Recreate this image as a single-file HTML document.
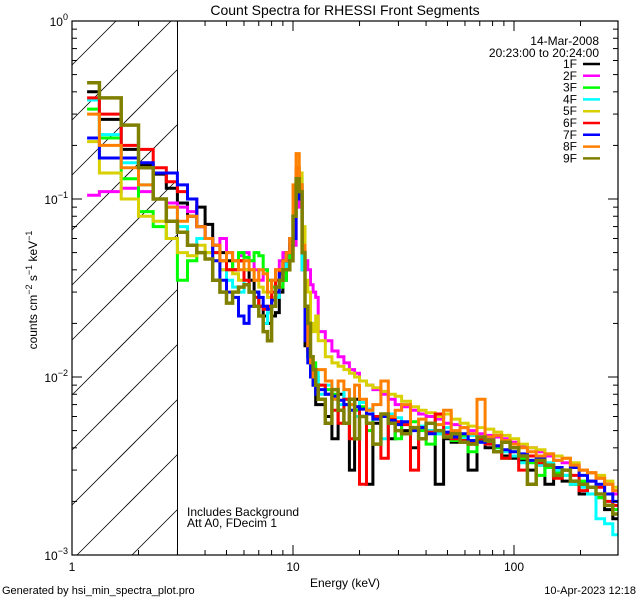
<!DOCTYPE html>
<html><head><meta charset="utf-8"><style>
html,body{margin:0;padding:0;background:#fff;width:640px;height:600px;overflow:hidden;}
svg{display:block;font-family:"Liberation Sans",sans-serif;}
</style></head><body>
<svg id="chart" width="640" height="600">
<defs><clipPath id="plotclip"><rect x="72" y="21" width="546" height="534"/></clipPath></defs>
<rect width="640" height="600" fill="#fff"/>
<g id="hatch"></g>
<line x1="177.5" y1="21" x2="177.5" y2="555" stroke="#000" stroke-width="1"/>
<g id="series" clip-path="url(#plotclip)"></g>
<g id="axes"></g>
<text x="345" y="15" text-anchor="middle" font-size="14">Count Spectra for RHESSI Front Segments</text>
<text x="345" y="587" text-anchor="middle" font-size="12">Energy (keV)</text>
<text transform="translate(37,290) rotate(-90)" text-anchor="middle" font-size="12">counts cm<tspan dy="-5" font-size="9">−2</tspan><tspan dy="5"> s</tspan><tspan dy="-5" font-size="9">−1</tspan><tspan dy="5"> keV</tspan><tspan dy="-5" font-size="9">−1</tspan></text>
<text x="599" y="45" text-anchor="end" font-size="12">14-Mar-2008</text>
<text x="599" y="57" text-anchor="end" font-size="12">20:23:00 to 20:24:00</text>
<g id="legend"></g>
<text x="187" y="516" font-size="12">Includes Background</text>
<text x="187" y="527" font-size="12">Att A0, FDecim 1</text>
<text x="2" y="594" font-size="11">Generated by hsi_min_spectra_plot.pro</text>
<text x="636" y="594" text-anchor="end" font-size="11">10-Apr-2023 12:18</text>
</svg>
<script>
const edges=[1.17,1.33,1.67,2,2.33,2.67,3,3.33,3.67,4,4.33,4.67,5,5.33,5.67,6,6.33,6.67,7,7.33,7.67,8,8.33,8.67,9,9.33,9.67,10,10.33,10.67,11,11.33,11.67,12,12.33,12.67,13,
14,15,16,17,18,19,20,21.5,23,25,27,29,31,34,37,40,44,48,52,57,62,68,74,81,88,96,105,115,126,138,151,165,180,197,215,235,257,280,300];
const seriesNames=["1F","2F","3F","4F","5F","6F","7F","8F","9F"];
const seriesColors=["#000000","#ff00ff","#00ff00","#00ffff","#d8d000","#ff0000","#0000ff","#ff8000","#808000"];
const s1F=[.40,.28,.19,.155,.138,.115,.095,.08,.09,.072,.055,.05,.045,
.04,.045,.04,.035,.030,.025,.022,.020,.022,.023,.03,.035,.045,.06,
.09,.14,.11,.04,.015,.013,.010,.009,.007,
.007,.006,.0045,.008,.007,.003,.0075,.006,.0025,.0055,.006,.0045,.0055,.005,.004,.0045,.005,.0025,.0045,.0043,.0045,.003,.0044,.004,.0038,.0036,.0035,.0034,.003,.0032,.0025,.0028,.0026,.0025,.0022,.0024,.0021,.0018,.0016];
const s2F=[.105,.11,.115,.11,.10,.095,.09,.085,.07,.06,.055,.06,.05,
.045,.048,.05,.045,.04,.035,.04,.035,.035,.04,.045,.05,.05,.048,
.055,.10,.09,.06,.045,.040,.033,.030,.028,
.018,.016,.014,.013,.012,.011,.0105,.0095,.009,.0085,.008,.0075,.007,.0068,.0065,.0062,.006,.0058,.0055,.0054,.0052,.005,.0048,.0047,.0046,.0045,.0043,.0041,.004,.0038,.0036,.0034,.0033,.0032,.003,.0029,.0027,.0025,.0022];
const s3F=[.32,.22,.13,.085,.07,.06,.035,.045,.05,.05,.05,.045,.04,
.045,.05,.047,.045,.05,.048,.04,.035,.032,.03,.032,.035,.04,.05,
.11,.15,.12,.05,.02,.016,.013,.012,.010,
.009,.0085,.008,.0065,.0075,.007,.0065,.0068,.005,.006,.0062,.0058,.0045,.0055,.0056,.005,.0042,.0048,.0046,.0044,.0047,.0038,.0045,.0043,.004,.0035,.0038,.0035,.0033,.0028,.0031,.0029,.0028,.0025,.0026,.0024,.0021,.0019,.0018];
const s4F=[.36,.23,.16,.12,.10,.09,.07,.055,.06,.06,.05,.04,.035,
.032,.03,.035,.03,.025,.022,.020,.023,.025,.028,.035,.04,.05,.06,
.10,.13,.13,.04,.018,.015,.012,.010,.011,
.008,.009,.0075,.007,.0085,.0065,.006,.0072,.0066,.0058,.0045,.0062,.0059,.0055,.0052,.0053,.005,.0048,.0052,.0046,.0045,.0047,.0043,.0042,.0041,.0038,.0036,.0033,.0034,.0032,.0033,.003,.0028,.0025,.0024,.0022,.0016,.0015,.0013];
const s5F=[.21,.14,.10,.08,.075,.06,.05,.048,.055,.05,.045,.04,.04,
.038,.035,.04,.04,.035,.032,.03,.028,.028,.03,.04,.045,.05,.055,
.11,.14,.14,.07,.035,.030,.020,.018,.022,
.016,.013,.012,.0115,.011,.0105,.01,.0095,.009,.0087,.0083,.008,.0078,.0073,.0068,.0065,.0063,.006,.0062,.0058,.0055,.0053,.0052,.0051,.0049,.0047,.0045,.0042,.004,.0039,.0037,.0036,.0035,.0033,.003,.0029,.0028,.0026,.0024];
const s6F=[.37,.30,.20,.19,.15,.125,.11,.10,.07,.06,.05,.045,.04,
.04,.045,.035,.03,.028,.025,.024,.025,.03,.035,.04,.045,.05,.06,
.09,.15,.12,.05,.018,.014,.011,.010,.009,
.009,.008,.0065,.0055,.0075,.0045,.0068,.0025,.0062,.006,.0035,.0058,.0056,.0054,.003,.0052,.0049,.0062,.0048,.0045,.0044,.0043,.0045,.0042,.0041,.0035,.004,.003,.0036,.0033,.0032,.0027,.003,.0028,.0023,.0026,.0024,.002,.0019];
const s7F=[.22,.17,.17,.16,.14,.14,.12,.10,.07,.06,.045,.035,.03,
.028,.022,.02,.025,.03,.028,.025,.024,.027,.03,.038,.045,.05,.055,
.06,.11,.10,.05,.016,.012,.010,.009,.008,
.0085,.008,.0078,.0074,.007,.0065,.0068,.0066,.0062,.0058,.006,.0057,.0054,.0056,.005,.0052,.0048,.005,.0049,.0046,.0048,.0044,.0043,.0045,.0041,.0039,.0038,.0037,.0034,.0035,.0032,.0031,.003,.0031,.0028,.0026,.0025,.0022,.002];
const s8F=[.30,.20,.15,.12,.10,.09,.075,.08,.07,.06,.055,.045,.05,
.045,.04,.045,.04,.035,.04,.038,.03,.035,.04,.04,.045,.05,.06,
.12,.18,.12,.055,.025,.015,.012,.010,.011,
.011,.0095,.0075,.0095,.0085,.007,.009,.0075,.0065,.007,.0095,.006,.0065,.007,.0052,.0058,.0055,.0054,.0065,.005,.0052,.0048,.0075,.0046,.0047,.0044,.0042,.004,.0038,.0036,.0037,.0034,.0035,.0032,.003,.0029,.0027,.0025,.0023];
const s9F=[.45,.37,.26,.15,.10,.075,.065,.055,.05,.046,.035,.03,.026,
.03,.032,.033,.03,.025,.022,.018,.016,.025,.032,.035,.04,.04,.045,
.08,.13,.11,.05,.025,.02,.013,.011,.009,
.0075,.0055,.0085,.0065,.0055,.0075,.0045,.006,.0055,.0042,.0062,.0055,.005,.0048,.0052,.0045,.0055,.005,.0046,.0048,.0043,.0042,.0046,.0044,.0038,.0043,.004,.0036,.0025,.0034,.0032,.0028,.003,.0026,.0025,.0024,.0022,.0019,.0017];
const seriesValues=[s1F,s2F,s3F,s4F,s5F,s6F,s7F,s8F,s9F];
const xTickLabels=["1","10","100"];
const yTickExps=["0","−1","−2","−3"];

const NS="http://www.w3.org/2000/svg";
const X0=72,X1=618,Y0=21,Y1=555,DX=221,DY=178,XH=177.5;
function xs(e){return Math.min(X1,X0+Math.log10(e)*DX);}
function ys(v){return Y0-Math.log10(v)*DY;}
function mk(tag,attrs,parent){const el=document.createElementNS(NS,tag);for(const k in attrs)el.setAttribute(k,attrs[k]);parent.appendChild(el);return el;}

const hatch=document.getElementById('hatch');
for(let c=-600;c<200;c+=55){
  const xa=Math.max(X0,X0+c), xb=Math.min(XH,X0+c+(Y1-Y0));
  if(xb<=xa)continue;
  const ya=Y1+c-(xa-X0), yb=Y1+c-(xb-X0);
  const ln=mk('line',{x1:xa,y1:ya,x2:xb,y2:yb,stroke:'#000','stroke-width':0.8},hatch);
  
  
}
const sg=document.getElementById('series');
seriesValues.forEach((vals,i)=>{
  let d='M'+xs(edges[0]).toFixed(1)+','+ys(vals[0]).toFixed(1);
  for(let b=0;b<vals.length;b++){
    if(b>0)d+='V'+ys(vals[b]).toFixed(1);
    d+='H'+xs(edges[b+1]).toFixed(1);
  }
  const p=mk('path',{d:d,fill:'none',stroke:seriesColors[i],'stroke-width':i===8?3.5:3,'stroke-linejoin':'miter'},sg);
  
  
});
const ax=document.getElementById('axes');
const frame=mk('rect',{x:X0,y:Y0,width:X1-X0,height:Y1-Y0,fill:'none',stroke:'#000','stroke-width':1.2},ax);


for(let dec=0;dec<3;dec++){
  for(let m=1;m<10;m++){
    const e=m*Math.pow(10,dec);const x=X0+Math.log10(e)*DX;if(x>X1)continue;
    const L=m===1?10:5;
    const t1=mk('line',{x1:x,y1:Y1,x2:x,y2:Y1-L,stroke:'#000'},ax);
    
    
    const t2=mk('line',{x1:x,y1:Y0,x2:x,y2:Y0+L,stroke:'#000'},ax);
    
    
  }
}
xTickLabels.forEach((lab,i)=>{
  const t=mk('text',{x:X0+i*DX,y:571,'text-anchor':'middle','font-size':12},ax);
  t.textContent=lab;
  
  
});
for(let dec=-3;dec<0;dec++){
  for(let m=1;m<10;m++){
    const y=ys(m*Math.pow(10,dec));
    const L=m===1?10:5;
    const t1=mk('line',{x1:X0,y1:y,x2:X0+L,y2:y,stroke:'#000'},ax);
    
    
    const t2=mk('line',{x1:X1,y1:y,x2:X1-L,y2:y,stroke:'#000'},ax);
    
    
  }
}
yTickExps.forEach((ex,i)=>{
  const t=mk('text',{x:X0-4,y:ys(Math.pow(10,-i))+5,'text-anchor':'end','font-size':12},ax);
  t.innerHTML='10<tspan dy="-6" font-size="9">'+ex+'</tspan>';
  
  
});
const lg=document.getElementById('legend');
seriesNames.forEach((n,i)=>{
  const y=64+i*11.8;
  const t=mk('text',{x:577,y:y+4,'text-anchor':'end','font-size':12},lg);
  t.textContent=n;
  
  
  const l=mk('line',{x1:583,y1:y,x2:600,y2:y,stroke:seriesColors[i],'stroke-width':2.5},lg);
  
  
});
</script>
</body></html>
